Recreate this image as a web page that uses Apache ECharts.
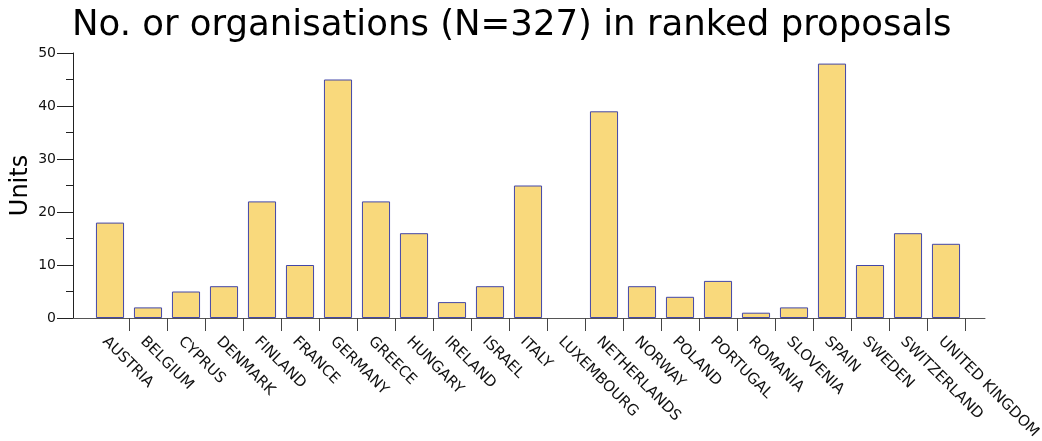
<!DOCTYPE html>
<html>
<head>
<meta charset="utf-8">
<script src="https://cdn.jsdelivr.net/npm/echarts@6/dist/echarts.min.js"></script>
<style>
  html, body { margin: 0; padding: 0; background: #fff; }
  #chart { width: 1042px; height: 441px; }
</style>
</head>
<body>
<div id="chart"></div>
<script>
const countries = [
  'AUSTRIA', 'BELGIUM', 'CYPRUS', 'DENMARK', 'FINLAND', 'FRANCE', 'GERMANY',
  'GREECE', 'HUNGARY', 'IRELAND', 'ISRAEL', 'ITALY', 'LUXEMBOURG', 'NETHERLANDS',
  'NORWAY', 'POLAND', 'PORTUGAL', 'ROMANIA', 'SLOVENIA', 'SPAIN', 'SWEDEN',
  'SWITZERLAND', 'UNITED KINGDOM'
]
const units = [18, 2, 5, 6, 22, 10, 45, 22, 16, 3, 6, 25, 0, 39, 6, 4, 7, 1, 2, 48, 10, 16, 14]
const yTicks = { min: 0, max: 50, step: 10 }

const fontFamily = '"DejaVu Sans", Verdana, sans-serif'
const axisColor = '#222'

const chart = echarts.init(document.getElementById('chart'))

// an empty bar (LUXEMBOURG) should not leave a border stroke on the axis
const barData = units.map((v) => (v === 0 ? { value: v, itemStyle: { borderWidth: 0 } } : v))

chart.setOption({
  animation: false,
  title: {
    text: 'No. or organisations (N=327) in ranked proposals',
    left: 67,
    top: 3,
    textStyle: { fontFamily, fontSize: 35.5, fontWeight: 'normal', color: '#000' },
  },
  grid: [
    // outer frame: carries the y axis and the long x axis line
    { left: 73, right: 57, top: 53, bottom: 123, outerBoundsMode: 'none', containLabel: false },
    // inner frame: carries the category bars
    { left: 91, right: 77, top: 53, bottom: 123, outerBoundsMode: 'none', containLabel: false },
  ],
  xAxis: [
    {
      gridIndex: 0,
      type: 'value',
      min: 0,
      max: 1,
      axisLine: { show: true, lineStyle: { color: '#555', width: 1 } },
      axisTick: { show: false },
      axisLabel: { show: false },
      splitLine: { show: false },
    },
    {
      gridIndex: 1,
      type: 'category',
      data: countries,
      axisLine: { show: false },
      axisTick: {
        show: true,
        length: 13,
        interval: (i) => i > 0,
        lineStyle: { color: '#444' },
      },
      axisLabel: {
        interval: 0,
        rotate: -45,
        margin: 16,
        verticalAlign: 'top',
        fontFamily,
        fontSize: 15,
        color: '#111',
      },
      splitLine: { show: false },
    },
  ],
  yAxis: [
    {
      gridIndex: 0,
      type: 'value',
      min: yTicks.min,
      max: yTicks.max,
      interval: yTicks.step,
      name: 'Units',
      nameLocation: 'middle',
      nameGap: 40,
      nameMoveOverlap: false,
      nameTextStyle: { fontFamily, fontSize: 24, color: '#000' },
      axisLine: { show: true, lineStyle: { color: axisColor } },
      axisTick: { show: true, length: 16, lineStyle: { color: axisColor } },
      minorTick: { show: true, splitNumber: 2, length: 7, lineStyle: { color: axisColor } },
      axisLabel: { margin: 17, fontFamily, fontSize: 14, color: '#111' },
      splitLine: { show: false },
    },
    {
      gridIndex: 1,
      type: 'value',
      min: yTicks.min,
      max: yTicks.max,
      show: false,
    },
  ],
  series: [
    {
      type: 'bar',
      xAxisIndex: 1,
      yAxisIndex: 1,
      data: barData,
      barCategoryGap: '26%',
      itemStyle: {
        color: '#F9D97C',
        borderColor: '#4347A8',
        borderWidth: 1,
      },
    },
  ],
})
</script>
</body>
</html>
